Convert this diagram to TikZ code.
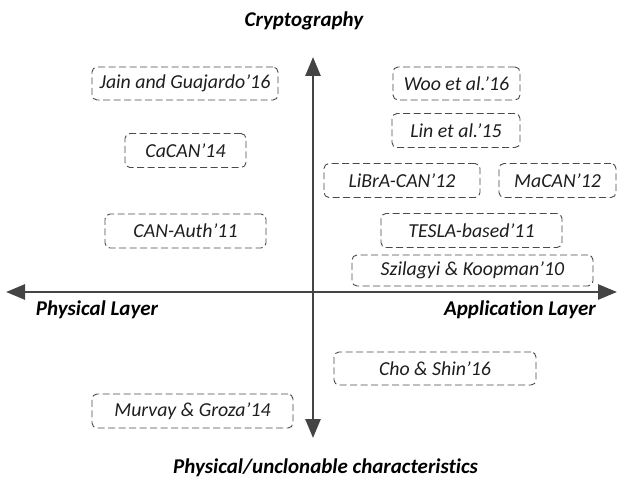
\documentclass[tikz,border=0pt]{standalone}
\usepackage{fontspec}
\setmainfont{Carlito}[Ligatures=NoCommon]
\usetikzlibrary{arrows.meta}
\definecolor{axisgray}{HTML}{444444}
\definecolor{boxgray}{HTML}{4A4A4A}
\definecolor{txt}{HTML}{1E1E1E}
\tikzset{
  refbox/.style={draw=boxgray, dash pattern=on 7pt off 3.5pt, line width=0.9pt,
    rounded corners=5pt, minimum height=34pt, inner sep=0pt, text=txt,
    font=\fontsize{19.8}{22}\selectfont\itshape},
  axis/.style={draw=axisgray, line width=2.7pt, -{Triangle[length=19pt,width=15pt]}},
  axlabel/.style={font=\fontsize{21}{24}\selectfont\bfseries\itshape, text=black, inner sep=0pt}
}
\begin{document}
\begin{tikzpicture}[x=1pt,y=-1pt]
\useasboundingbox (0,0) rectangle (617,481);
\coordinate (c) at (313,292);
\coordinate (top) at (313,57);
\coordinate (bot) at (313,438);
\coordinate (lft) at (6,292);
\coordinate (rgt) at (617,292);
\draw[axis] (c) -- (top);
\draw[axis] (c) -- (bot);
\draw[axis] (c) -- (lft);
\draw[axis] (c) -- (rgt);

\node[axlabel] (crypto) at (304,21) {Cryptography};
\node[axlabel] (phys) at (97,310) {Physical Layer};
\node[axlabel] (app) at (520,310) {Application Layer};
\node[axlabel] (puc) at (325.5,468) {Physical/unclonable characteristics};

\node[refbox, minimum width=186pt, minimum height=33pt] (jain) at (185,83.5) {Jain and Guajardo’16};
\node[refbox, minimum width=121pt] (cacan) at (185.5,150.5) {CaCAN’14};
\node[refbox, minimum width=161pt] (canauth) at (185.5,231) {CAN-Auth’11};
\node[refbox, minimum width=127pt, minimum height=33pt] (woo) at (456.5,83.5) {Woo et al.’16};
\node[refbox, minimum width=128pt] (lin) at (456,130.5) {Lin et al.’15};
\node[refbox, minimum width=156pt] (libra) at (402,180.5) {LiBrA-CAN’12};
\node[refbox, minimum width=117pt] (macan) at (557.5,180.5) {MaCAN’12};
\node[refbox, minimum width=181pt] (tesla) at (471.5,230.5) {TESLA-based’11};
\node[refbox, minimum width=241pt, minimum height=31pt] (szil) at (472.5,270.5) {Szilagyi \& Koopman’10};
\node[refbox, minimum width=202pt, minimum height=33pt] (cho) at (435,368.5) {Cho \& Shin’16};
\node[refbox, minimum width=201pt] (murvay) at (192.5,411) {Murvay \& Groza’14};
\end{tikzpicture}
\end{document}
